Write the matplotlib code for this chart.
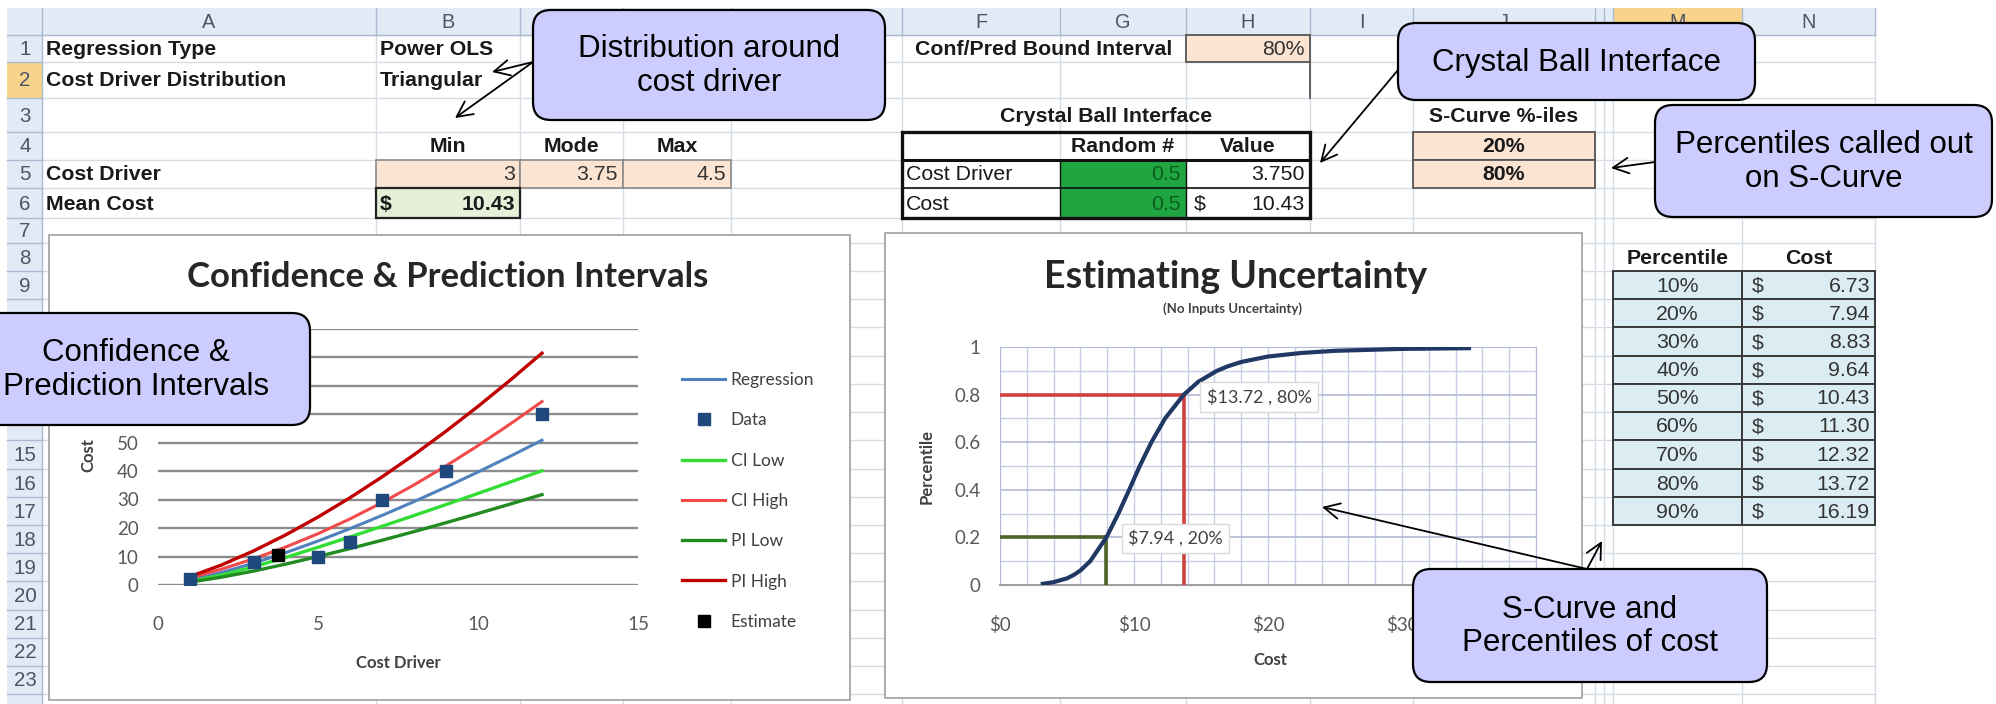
import matplotlib
matplotlib.use("Agg")
import numpy as np
import matplotlib.pyplot as plt
from matplotlib.patches import Rectangle, FancyBboxPatch
from matplotlib import font_manager

# ---- values ----
# power OLS fit with its 80% confidence / prediction bounds, cost driver 1..12
fit_x = [1, 2, 3, 4, 5, 6, 7, 8, 9, 10, 11, 12]
regression = [1.73, 4.43, 7.70, 11.39, 15.43, 19.78, 24.40, 29.26, 34.34, 39.64, 45.13, 50.80]
ci_low = [1.21, 3.50, 6.41, 9.72, 13.23, 16.87, 20.59, 24.37, 28.22, 32.13, 36.09, 40.10]
ci_high = [2.46, 5.62, 9.25, 13.36, 18.00, 23.19, 28.91, 35.12, 41.79, 48.91, 56.44, 64.36]
pi_low = [1.01, 2.77, 4.93, 7.36, 9.99, 12.78, 15.70, 18.73, 21.86, 25.08, 28.37, 31.72]
pi_high = [2.96, 7.10, 12.03, 17.64, 23.84, 30.62, 37.92, 45.70, 53.96, 62.67, 71.81, 81.35]
data_x = [1, 3, 5, 6, 7, 9, 12]
data_y = [2, 8, 10, 15, 30, 40, 60]
estimate_x = [3.75]
estimate_y = [10.43]

# S-curve: cost vs cumulative percentile
scurve_cost = [3.2, 4.0, 5.0, 5.5, 6.0, 6.73, 7.94, 8.83, 9.64, 10.43, 11.30, 12.32,
               13.72, 14.8, 16.19, 17.0, 18.0, 20.0, 22.5, 25.0, 30.0, 35.0]
scurve_pct = [0.005, 0.012, 0.028, 0.042, 0.061, 0.10, 0.20, 0.30, 0.40, 0.50, 0.60, 0.70,
              0.80, 0.854, 0.90, 0.919, 0.937, 0.960, 0.975, 0.984, 0.992, 0.995]

# percentile table
pct_levels = [10, 20, 30, 40, 50, 60, 70, 80, 90]
pct_costs = [6.73, 7.94, 8.83, 9.64, 10.43, 11.30, 12.32, 13.72, 16.19]
called_out = [20, 80]

driver_tri = ["3", "3.75", "4.5"]   # min, mode, max
mean_cost = 10.43

W, H = 1996, 704

avail = {f.name for f in font_manager.fontManager.ttflist}
if "Liberation Sans Narrow" in avail:
    SHEET, FS = "Liberation Sans Narrow", 18
else:
    SHEET, FS = "Liberation Sans", 15.3
CHART = "Lato"
CALL = "Liberation Sans"

COLS = {"A": (42, 376), "B": (376, 520), "C": (520, 623), "D": (623, 731), "E": (731, 902),
        "F": (902, 1060), "G": (1060, 1186), "H": (1186, 1310), "I": (1310, 1413),
        "J": (1413, 1595), "K": (1595, 1604), "L": (1604, 1613), "M": (1613, 1742),
        "N": (1742, 1875)}
ROWS = [8, 35, 62, 98, 132, 160, 188, 218, 243, 271, 299, 327, 356, 384, 412, 440,
        469, 497, 525, 553, 581, 610, 638, 666, 694, 722]
hidden_rows = {10, 11, 12, 13, 14, 24}   # row numbers covered by a callout / cut by the edge

fig = plt.figure(figsize=(W / 100, H / 100), dpi=100)
bg = fig.add_axes([0, 0, 1, 1])
bg.set_xlim(0, W)
bg.set_ylim(H, 0)
bg.axis("off")


def put(col, row, s, ha="left", bold=False, color="#1a1a1a", col2=None, size=None, dx=0):
    x0, x1 = COLS[col]
    if col2:
        x1 = COLS[col2][1]
    y0, y1 = ROWS[row], ROWS[row + 1]
    x = {"left": x0 + 4, "right": x1 - 5, "center": (x0 + x1) / 2}[ha] + dx
    bg.text(x, (y0 + y1) / 2 + 1, s, ha=ha, va="center", fontfamily=SHEET,
            fontsize=size or FS, fontweight="bold" if bold else "normal",
            color=color, zorder=6)


def fill(c0, r0, c1, r1, face, edge="none", lw=1.0, z=3):
    x0, x1 = COLS[c0][0], COLS[c1][1]
    y0, y1 = ROWS[r0], ROWS[r1 + 1]
    bg.add_patch(Rectangle((x0, y0), x1 - x0, y1 - y0, facecolor=face,
                           edgecolor=edge, lw=lw, zorder=z))


# ---- sheet grid ----
for c, (x0, x1) in COLS.items():
    bg.plot([x1, x1], [35, H], color="#d5dce8", lw=1, zorder=1)
for y in ROWS[1:]:
    bg.plot([42, 1875], [y, y], color="#d5dce8", lw=1, zorder=1)
bg.add_patch(Rectangle((7, 8), 1868, 27, facecolor="#e2eaf5", edgecolor="none", zorder=2))
bg.add_patch(Rectangle((7, 35), 35, H - 35, facecolor="#e2eaf5", edgecolor="none", zorder=2))
bg.add_patch(Rectangle((1613, 8), 129, 27, facecolor="#f8d38c", edgecolor="none", zorder=2))
bg.add_patch(Rectangle((7, 62), 35, 36, facecolor="#f8d38c", edgecolor="none", zorder=2))
for c, (x0, x1) in COLS.items():
    bg.plot([x1, x1], [8, 35], color="#a8bbd2", lw=1, zorder=2)
    if c not in "CDEKL":
        bg.text((x0 + x1) / 2, 22, c, ha="center", va="center", fontfamily=SHEET,
                fontsize=FS - 1, color="#4d5560", zorder=3)
bg.plot([7, 1875], [35, 35], color="#a8bbd2", lw=1, zorder=2)
for r in range(1, 25):
    y0, y1 = ROWS[r], ROWS[r + 1]
    bg.plot([7, 42], [y1, y1], color="#a8bbd2", lw=1, zorder=2)
    if r not in hidden_rows:
        bg.text(25, (y0 + y1) / 2 + 1, str(r), ha="center", va="center", fontfamily=SHEET,
                fontsize=FS - 0.5, color="#4a5668", zorder=3)
bg.plot([42, 42], [8, H], color="#a8bbd2", lw=1, zorder=2)

# ---- inputs block ----
put("A", 1, "Regression Type", bold=True)
put("B", 1, "Power OLS", bold=True)
put("A", 2, "Cost Driver Distribution", bold=True)
put("B", 2, "Triangular", bold=True)
for c, s in zip("BCD", ["Min", "Mode", "Max"]):
    put(c, 4, s, ha="center", bold=True)
put("A", 5, "Cost Driver", bold=True)
for c, s in zip("BCD", driver_tri):
    fill(c, 5, c, 5, "#fce4d2", edge="#8a8a8a", lw=1.2)
    put(c, 5, s, ha="right", color="#333333")
put("A", 6, "Mean Cost", bold=True)
fill("B", 6, "B", 6, "#e6efd8", edge="#222222", lw=1.6)
put("B", 6, "$", bold=True)
put("B", 6, f"{mean_cost:.2f}", ha="right", bold=True)

put("F", 1, "Conf/Pred Bound Interval", bold=True, dx=9)
fill("H", 1, "H", 1, "#fce4d2", edge="#555555", lw=1.3)
put("H", 1, "80%", ha="right", color="#333333")
bg.plot([1310, 1310], [62, 98], color="#555555", lw=1.3, zorder=4)

put("F", 3, "Crystal Ball Interface", ha="center", bold=True, col2="H")
fill("G", 5, "G", 6, "#1fa640", z=3)
bg.add_patch(Rectangle((902, 132), 408, 86, facecolor="none", edgecolor="#111111", lw=2.4, zorder=5))
bg.plot([902, 1310], [160, 160], color="#111111", lw=2.2, zorder=5)
bg.plot([902, 1310], [188, 188], color="#111111", lw=1.2, zorder=5)
for x in (1060, 1186):
    bg.plot([x, x], [160, 218], color="#111111", lw=1.0, zorder=5)
put("G", 4, "Random #", ha="center", bold=True)
put("H", 4, "Value", ha="center", bold=True)
put("F", 5, "Cost Driver")
put("G", 5, "0.5", ha="right", color="#0b5e1f")
put("H", 5, "3.750", ha="right")
put("F", 6, "Cost")
put("G", 6, "0.5", ha="right", color="#0b5e1f")
put("H", 6, "$", dx=4)
put("H", 6, f"{mean_cost:.2f}", ha="right")

put("J", 3, "S-Curve %-iles", ha="center", bold=True)
for r, p in zip((4, 5), called_out):
    fill("J", r, "J", r, "#fce4d2", edge="#555555", lw=1.3)
    put("J", r, f"{p}%", ha="center", bold=True)

put("M", 8, "Percentile", ha="center", bold=True)
put("N", 8, "Cost", ha="center", bold=True)
for i, (p, c) in enumerate(zip(pct_levels, pct_costs)):
    r = 9 + i
    fill("M", r, "M", r, "#dbedf3", edge="#3a3a3a", lw=1.4)
    fill("N", r, "N", r, "#dbedf3", edge="#3a3a3a", lw=1.4)
    put("M", r, f"{p}%", ha="center", color="#333333")
    put("N", r, "$", color="#333333", dx=6)
    put("N", r, f"{c:.2f}", ha="right", color="#333333")

# ---- chart frames ----
for (x0, y0, x1, y1) in [(49, 235, 850, 700), (885, 233, 1582, 698)]:
    bg.add_patch(Rectangle((x0, y0), x1 - x0, y1 - y0, facecolor="white",
                           edgecolor="#a6a6a6", lw=1.3, zorder=7))


def px_axes(x0, y0, x1, y1):
    return fig.add_axes([x0 / W, 1 - y1 / H, (x1 - x0) / W, (y1 - y0) / H])


# ---- left chart: confidence & prediction intervals ----
bg.text(448, 277, "Confidence & Prediction Intervals", ha="center", va="center",
        fontfamily=CHART, fontsize=25, fontweight="bold", color="#262626", zorder=8)
ax1 = px_axes(158, 328.5, 638, 585)
ax1.set_facecolor("none")
ax1.plot(fit_x, regression, color="#4f81bd", lw=2.2, label="Regression")
ax1.plot(fit_x, ci_low, color="#33dd33", lw=2.4, label="CI Low")
ax1.plot(fit_x, ci_high, color="#f04a4a", lw=2.2, label="CI High")
ax1.plot(fit_x, pi_low, color="#228b22", lw=2.4, label="PI Low")
ax1.plot(fit_x, pi_high, color="#c00000", lw=2.4, label="PI High")
ax1.plot(data_x, data_y, "s", color="#1f497d", ms=8, label="Data", zorder=5)
ax1.plot(estimate_x, estimate_y, "s", color="black", ms=8.5, label="Estimate", zorder=6)
ax1.set_xlim(0, 15)
ax1.set_ylim(0, 90)
ax1.set_xticks([0, 5, 10, 15])
yt = list(range(0, 91, 10))
ax1.set_yticks(yt)
# labels above 50 sit under the callout box in the screenshot
ax1.set_yticklabels([str(v) if v <= 50 else "" for v in yt])
ax1.grid(axis="y", color="#8c8c8c", lw=1.7)
ax1.set_axisbelow(True)
for s in ax1.spines.values():
    s.set_visible(False)
ax1.tick_params(length=0, labelsize=13.5, labelcolor="#595959", pad=14)
ax1.tick_params(axis="x", pad=22)
for t in ax1.get_xticklabels() + ax1.get_yticklabels():
    t.set_fontfamily(CHART)
ax1.text(0.5, -0.305, "Cost Driver", transform=ax1.transAxes, ha="center", va="center",
         fontfamily=CHART, fontsize=12, fontweight="bold", color="#404040")
ax1.text(-0.146, 0.505, "Cost", transform=ax1.transAxes, ha="center", va="center",
         rotation=90, fontfamily=CHART, fontsize=12, fontweight="bold", color="#404040")
order = ["Regression", "Data", "CI Low", "CI High", "PI Low", "PI High", "Estimate"]
hl = dict(zip(*ax1.get_legend_handles_labels()[::-1]))
ax1.legend([hl[k] for k in order], order, loc="upper left",
           bbox_to_anchor=(682 / W, 1 - 372 / H), bbox_transform=fig.transFigure,
           frameon=False, borderaxespad=0, borderpad=0, handlelength=2.5,
           handletextpad=0.3, labelspacing=1.4, labelcolor="#404040",
           prop={"family": CHART, "size": 12.5})

# ---- right chart: S-curve ----
bg.text(1236, 277, "Estimating Uncertainty", ha="center", va="center",
        fontfamily=CHART, fontsize=27, fontweight="bold", color="#262626", zorder=8)
bg.text(1233, 309, "(No Inputs Uncertainty)", ha="center", va="center",
        fontfamily=CHART, fontsize=9.5, fontweight="bold", color="#404040", zorder=8)
ax2 = px_axes(1000, 347, 1536, 585)
ax2.set_facecolor("none")
ax2.set_xlim(0, 40)
ax2.set_ylim(0, 1)
ax2.set_xticks([0, 10, 20, 30, 40])
ax2.set_xticklabels([f"${v}" for v in [0, 10, 20, 30, 40]])
ax2.set_xticks(np.arange(0, 41, 2), minor=True)
ax2.set_yticks([0, 0.2, 0.4, 0.6, 0.8, 1.0])
ax2.set_yticklabels(["0", "0.2", "0.4", "0.6", "0.8", "1"])
ax2.set_yticks(np.arange(0, 1.01, 0.1), minor=True)
ax2.grid(which="both", color="#c8cee4", lw=1)
ax2.grid(which="major", axis="y", color="#b3bad6", lw=1.2)
ax2.set_axisbelow(True)
for k, s in ax2.spines.items():
    s.set_color("#b3bad6")
ax2.spines["bottom"].set_color("#a0a0a0")
ax2.spines["bottom"].set_linewidth(1.5)
ax2.tick_params(which="both", length=0, labelsize=13.5, labelcolor="#595959", pad=14)
ax2.tick_params(axis="x", pad=22)
for t in ax2.get_xticklabels() + ax2.get_yticklabels():
    t.set_fontfamily(CHART)
lo = pct_costs[pct_levels.index(called_out[0])]
hi = pct_costs[pct_levels.index(called_out[1])]
ax2.plot([0, lo], [called_out[0] / 100] * 2, color="#4f6228", lw=2.6, zorder=3)
ax2.plot([lo, lo], [0, called_out[0] / 100], color="#4f6228", lw=2.6, zorder=3)
ax2.plot([0, hi], [called_out[1] / 100] * 2, color="#d0413e", lw=2.6, zorder=3)
ax2.plot([hi, hi], [0, called_out[1] / 100], color="#d0413e", lw=2.6, zorder=3)
ax2.plot(scurve_cost, scurve_pct, color="#1f3864", lw=3, zorder=4)
lab = dict(fontfamily=CHART, fontsize=13, color="#404040", va="center", ha="left", zorder=5,
           bbox=dict(boxstyle="square,pad=0.35", fc="white", ec="#d9d9d9", lw=1))
ax2.text(hi + 1.7, 0.79, f"${hi:.2f} , {called_out[1]}%", **lab)
ax2.text(lo + 1.6, 0.195, f"${lo:.2f} , {called_out[0]}%", **lab)
ax2.text(-0.136, 0.496, "Percentile", transform=ax2.transAxes, ha="center", va="center",
         rotation=90, fontfamily=CHART, fontsize=12, fontweight="bold", color="#404040")
ax2.text(0.504, -0.315, "Cost", transform=ax2.transAxes, ha="center", va="center",
         fontfamily=CHART, fontsize=12, fontweight="bold", color="#404040")

# ---- callouts ----
ov = fig.add_axes([0, 0, 1, 1])
ov.set_xlim(0, W)
ov.set_ylim(H, 0)
ov.axis("off")
ov.set_facecolor("none")


def callout(x0, y0, x1, y1, text, cx=None):
    ov.add_patch(FancyBboxPatch((x0, y0), x1 - x0, y1 - y0,
                                boxstyle="round,pad=0,rounding_size=18",
                                facecolor="#ccccff", edgecolor="black", lw=1.6, zorder=10))
    ov.text(cx if cx is not None else (x0 + x1) / 2, (y0 + y1) / 2 + 1, text,
            ha="center", va="center", fontfamily=CALL, fontsize=22.5,
            linespacing=1.15, color="black", zorder=11)


def arrow(tail, head):
    ov.annotate("", xy=head, xytext=tail,
                arrowprops=dict(arrowstyle="->", lw=1.3, color="black",
                                mutation_scale=28, shrinkA=0, shrinkB=0), zorder=12)


callout(533, 10, 885, 120, "Distribution around\ncost driver")
arrow((533, 62), (492, 72))
arrow((533, 62), (455, 118))
callout(1398, 23, 1755, 100, "Crystal Ball Interface")
arrow((1398, 70), (1320, 163))
callout(1655, 105, 1992, 217, "Percentiles called out\non S-Curve")
arrow((1655, 162), (1611, 168))
callout(-30, 313, 310, 425, "Confidence &\nPrediction Intervals", cx=136)
callout(1413, 569, 1767, 682, "S-Curve and\nPercentiles of cost")
arrow((1587, 569), (1322, 507))
arrow((1587, 569), (1602, 541))

fig.savefig("out.png", dpi=100)
